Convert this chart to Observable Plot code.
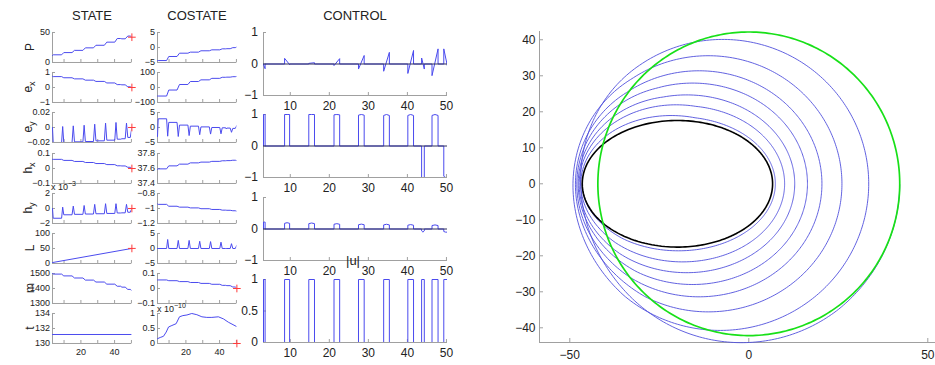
<!DOCTYPE html>
<html><head><meta charset="utf-8">
<script src="https://cdn.jsdelivr.net/npm/d3@7"></script>
<script src="https://cdn.jsdelivr.net/npm/@observablehq/plot@0.6"></script>
<style>
body{margin:0;background:#fff;}
#wrap{position:relative;width:935px;height:365px;overflow:hidden;font-family:"Liberation Sans",Arial,Helvetica,sans-serif;color:#222;}
.title{position:absolute;font-size:13px;line-height:13px;transform:translateX(-50%);white-space:nowrap;}
.ylab{position:absolute;font-size:12px;line-height:12px;transform:translate(-50%,-50%) rotate(-90deg);white-space:nowrap;}
.ylab sub{font-size:9px;vertical-align:-3px;}
.expo{position:absolute;font-size:9px;line-height:9px;white-space:nowrap;}
.expo sup{font-size:7px;vertical-align:4px;}
</style></head><body><div id="wrap"></div>
<script>
// ---------------- data ----------------
const Lmin = 3.14, Lmax = 50.27;
const burnStart = [3.14, 8.54, 14.74, 21.2, 27.47, 33.92, 40.11, 43.64, 46.3, 49.32];
const burnEnd   = [3.55, 9.83, 16.2, 22.65, 28.93, 35.38, 41.57, 44.33, 47.85, 50.27];

// state levels: before burn 0, then after each burn
const P_lv  = [11.63, 12.8, 16.5, 20.2, 24.4, 28.7, 33.9, 39.96, 39.46, 44.08, 42.16];
const ex_lv = [0.75, 0.726, 0.649, 0.575, 0.489, 0.405, 0.303, 0.193, 0.178, 0.0455, 0];
const ey_lv = [0, -0.020, -0.020, -0.0191, -0.0187, -0.0178, -0.0169, -0.0156, -0.0150, -0.0133, 0];
const ey_pk = [null, 0.0013, 0.0022, 0.003, 0.0044, 0.0058, 0.0067, null, 0.0058, null];
const hx_lv = [0.0612, 0.061, 0.054, 0.047, 0.040, 0.033, 0.026, 0.018, 0.017, 0.008, 0];
const hy_lv = [0, -1.3, -0.84, -0.78, -0.74, -0.70, -0.66, -0.60, -0.58, -0.50, 0]; // x 1e-3
const hy_pk = [null, 0.18, 0.32, 0.4, 0.55, 0.64, 0.64, null, 0.55, null];
const L_x = [3.14, 50.27], L_v = [3.14, 50.27];
const m_lv  = [1500, 1496, 1484, 1470, 1456, 1443, 1429, 1415, 1409, 1394, 1385];
const t_x = [3.14, 50.27], t_v = [131.2, 131.2];

// costate
const pP_lv  = [-4.4, -4.35, -3.0, -1.9, -1.55, -1.1, -0.78, -0.45, -0.4, -0.05, 0.2];
const pex_lv = [-57, -57, -17, 20, 40, 51, 61, 68, 69, 72, 74];
const pey_lv = [-3.0, 2.9, 1.7, 0.8, 0.45, 0.2, 0.0, -0.1, -0.2, -0.3, 0.7];
const pey_pk = [null, -2.9, -3.0, -2.7, -2.4, -2.2, -2.1, -0.5, -1.6, null];
const phx_lv = [37.59, 37.595, 37.635, 37.658, 37.675, 37.685, 37.695, 37.703, 37.705, 37.71, 37.705];
const phy_lv = [-0.94, -0.945, -0.97, -0.982, -0.992, -1.003, -1.013, -1.022, -1.024, -1.03, -1.037];
const pL_lv  = [0, 0, 0, 0, 0, 0, 0, 0, 0, 0, 1.1];
const pL_pk  = [null, 3.0, 2.7, 2.7, 2.4, 2.3, 2.1, null, 1.6, null];
const pm_lv  = [0.057, 0.057, 0.052, 0.046, 0.040, 0.034, 0.028, 0.021, 0.019, 0.010, 0];
const pt_x = [3.14, 4.74, 6.7, 8.3, 9.7, 11.7, 14.2, 16.2, 18.2, 20.6, 23.5, 26.5, 29.5, 32.4, 35.4, 39.3, 42.3, 45.2, 50.27];
const pt_v = [0.16, 0.2, 0.24, 0.38, 0.55, 0.6, 0.66, 0.89, 0.93, 0.95, 1.0, 0.96, 0.89, 0.87, 0.87, 0.89, 0.82, 0.71, 0.56]; // x 1e-10

// control values during each burn (edge, middle, edge)
const u1_s = [-0.02, 0.18, 0.02, -0.05, -0.16, -0.23, -0.30, 0.19, -0.37, 0.48];
const u1_e = [-0.15, -0.02, 0.04, 0.17, 0.27, 0.37, 0.43, -0.16, 0.48, -0.08];
const u2_s = [1, 1, 1, 0.99, 0.98, 0.97, 0.97, -1, 0.97, -0.96];
const u2_m = [1, 1, 1, 1, 1, 1, 1, -1, 1, -1];
const u2_e = [1, 1, 1, 0.99, 0.98, 0.97, 0.97, -1, 0.97, -1];
const u3_s = [0.22, 0.18, 0.17, 0.15, 0.135, 0.13, 0.12, -0.06, 0.11, -0.08];
const u3_m = [0.22, 0.2, 0.19, 0.17, 0.155, 0.15, 0.14, -0.1, 0.13, -0.1];
const u3_e = [0.22, 0.18, 0.17, 0.15, 0.135, 0.13, 0.12, -0.06, 0.11, -0.1];
const un_v = [1, 1, 1, 1, 1, 1, 1, 1, 1, 1];

// tick values
const stTicksX = [10, 20, 30, 40, 50], stLabelsX = [20, 40];
const ctTicksX = [10, 20, 30, 40, 50];
const orbTicksX = [-50, 0, 50], orbTicksY = [-40, -30, -20, -10, 0, 10, 20, 30, 40];

// ---------------- helpers ----------------
const FONT = '"Liberation Sans", Arial, Helvetica, sans-serif';
const BLUE = "#4a4aee", AXIS = "#a0a0a0", TXT = "#222", RED = "#ff3a3a";
const wrap = document.getElementById("wrap");
const fmt = d => String(+(+d).toFixed(6)).replace("-", "\u2212");

function stepSeries(levels, peaks) {
  const pts = [];
  for (let k = 0; k < burnStart.length; k++) {
    pts.push({x: burnStart[k], y: levels[k]});
    if (peaks && peaks[k] != null) pts.push({x: (burnStart[k] + burnEnd[k]) / 2, y: peaks[k]});
    pts.push({x: burnEnd[k], y: levels[k + 1]});
  }
  return pts;
}
function zipSeries(xs, ys) { return xs.map((x, i) => ({x, y: ys[i]})); }
function pulseSeries(vs, vm, ve) {
  const pts = [{x: Lmin, y: 0}];
  for (let k = 0; k < burnStart.length; k++) {
    const a = burnStart[k], b = burnEnd[k];
    pts.push({x: a, y: 0}, {x: a, y: vs[k]});
    if (vm) pts.push({x: (a + b) / 2, y: vm[k]});
    pts.push({x: b, y: ve[k]});
    if (b < Lmax) pts.push({x: b, y: 0});
  }
  if (burnEnd[burnEnd.length - 1] < Lmax) pts.push({x: Lmax, y: 0});
  return pts;
}
function at(pts, L) {
  for (let i = 1; i < pts.length; i++) if (L <= pts[i].x) {
    const a = pts[i - 1], b = pts[i];
    const t = b.x === a.x ? 1 : (L - a.x) / (b.x - a.x);
    return a.y + t * (b.y - a.y);
  }
  return pts[pts.length - 1].y;
}
function place(svg, left, top) {
  svg.style.position = "absolute";
  svg.style.left = left + "px";
  svg.style.top = top + "px";
  svg.style.maxWidth = "none";
  wrap.appendChild(svg);
}
function panel(o) {
  const ml = o.ml ?? 45, mr = o.mr ?? 6, mt = o.mt ?? 6, mb = o.mb ?? 18;
  const W = o.right - o.left, H = o.bottom - o.top;
  const marks = [
    Plot.ruleX([o.xd[0]], {stroke: AXIS}),
    Plot.ruleY([o.yd[0]], {stroke: AXIS}),
    Plot.axisY(o.yt, {anchor: "left", label: null, tickSize: 0, tickPadding: o.yPad, tickFormat: fmt, fontSize: o.fs, fill: TXT}),
    Plot.axisY(o.yt, {anchor: "left", label: null, tickSize: 3, dx: 3, tickFormat: () => "", stroke: AXIS}),
    Plot.axisX(o.xt, {anchor: "bottom", label: null, tickSize: 3, dy: -3, tickFormat: () => "", stroke: AXIS})
  ];
  if (o.xl) marks.push(Plot.axisX(o.xl, {anchor: "bottom", label: null, tickSize: 0, tickPadding: o.xPad, tickFormat: fmt, fontSize: o.fs, fill: TXT}));
  marks.push(...o.marks);
  const svg = Plot.plot({
    width: ml + W + mr, height: mt + H + mb,
    marginLeft: ml, marginRight: mr, marginTop: mt, marginBottom: mb,
    x: {domain: o.xd, axis: null}, y: {domain: o.yd, axis: null},
    style: {background: "transparent", overflow: "visible", fontFamily: FONT},
    marks
  });
  place(svg, o.left - ml, o.top - mt);
}
function lineMark(pts) { return Plot.line(pts, {x: "x", y: "y", stroke: BLUE, strokeWidth: 1, clip: true}); }
function plusMark(y) { return Plot.dot([{x: Lmax, y}], {x: "x", y: "y", symbol: "plus", r: 2.6, stroke: RED, strokeWidth: 1}); }

// ---------------- STATE / COSTATE columns ----------------
const rowTop = [32, 72.2, 112.4, 152.7, 192.9, 233.1, 273.1, 313.3];
const rowH = 30;
const stateDefs = [
  {lab: "P", yd: [0, 50], yt: [0, 50], pts: stepSeries(P_lv), target: P_lv[10]},
  {lab: "e<sub>x</sub>", yd: [-1, 1], yt: [-1, 0, 1], pts: stepSeries(ex_lv), target: 0},
  {lab: "e<sub>y</sub>", yd: [-0.02, 0.02], yt: [-0.02, 0, 0.02], pts: stepSeries(ey_lv, ey_pk), target: 0},
  {lab: "h<sub>x</sub>", yd: [-0.1, 0.1], yt: [-0.1, 0, 0.1], pts: stepSeries(hx_lv), target: 0},
  {lab: "h<sub>y</sub>", yd: [-2, 2], yt: [-2, 0, 2], pts: stepSeries(hy_lv, hy_pk), target: 0},
  {lab: "L", yd: [0, 100], yt: [0, 50, 100], pts: zipSeries(L_x, L_v), target: L_v[1]},
  {lab: "m", yd: [1300, 1500], yt: [1300, 1400, 1500], pts: stepSeries(m_lv)},
  {lab: "t", yd: [130, 134], yt: [130, 132, 134], pts: zipSeries(t_x, t_v)}
];
const costDefs = [
  {yd: [-5, 5], yt: [-5, 0, 5], pts: stepSeries(pP_lv)},
  {yd: [-100, 100], yt: [-100, 0, 100], pts: stepSeries(pex_lv)},
  {yd: [-5, 5], yt: [-5, 0, 5], pts: stepSeries(pey_lv, pey_pk)},
  {yd: [37.4, 37.8], yt: [37.4, 37.6, 37.8], pts: stepSeries(phx_lv)},
  {yd: [-1.2, -0.8], yt: [-1.2, -1, -0.8], pts: stepSeries(phy_lv)},
  {yd: [-5, 5], yt: [-5, 0, 5], pts: stepSeries(pL_lv, pL_pk)},
  {yd: [-0.1, 0.1], yt: [-0.1, 0, 0.1], pts: stepSeries(pm_lv), target: 0},
  {yd: [0, 1], yt: [0, 0.5, 1], pts: zipSeries(pt_x, pt_v), target: 0}
];
function column(defs, left, right) {
  defs.forEach((d, i) => {
    const last = i === defs.length - 1;
    const marks = [lineMark(d.pts)];
    if (d.target != null) marks.push(plusMark(d.target));
    panel({left, right, top: rowTop[i], bottom: rowTop[i] + rowH,
      xd: [Lmin, Lmax], yd: d.yd, yt: d.yt, xt: stTicksX, xl: last ? stLabelsX : null,
      fs: 9, yPad: 2.5, xPad: 5, marks});
  });
}
column(stateDefs, 52.3, 131.7);
column(costDefs, 157.3, 236.7);

stateDefs.forEach((d, i) => {
  const div = document.createElement("div");
  div.className = "ylab";
  div.innerHTML = d.lab;
  div.style.left = "30px";
  div.style.top = (rowTop[i] + rowH / 2) + "px";
  wrap.appendChild(div);
});

// ---------------- CONTROL column ----------------
const ctTop = [31.7, 114.2, 196.7, 279.2], ctH = 63;
const ctrlDefs = [
  {yd: [-1, 1], yt: [-1, 0, 1], pts: pulseSeries(u1_s, null, u1_e), zero: true},
  {yd: [-1, 1], yt: [-1, 0, 1], pts: pulseSeries(u2_s, u2_m, u2_e), zero: true},
  {yd: [-1, 1], yt: [-1, 0, 1], pts: pulseSeries(u3_s, u3_m, u3_e), zero: true},
  {yd: [0, 1], yt: [0, 0.5, 1], pts: pulseSeries(un_v, null, un_v), zero: false}
];
ctrlDefs.forEach((d, i) => {
  const marks = [lineMark(d.pts)];
  if (d.zero) marks.push(Plot.ruleY([0], {stroke: "#2e2e5a", strokeWidth: 1}));
  panel({left: 262.7, right: 446.7, top: ctTop[i], bottom: ctTop[i] + ctH,
    xd: [Lmin, Lmax], yd: d.yd, yt: d.yt, xt: ctTicksX, xl: ctTicksX,
    fs: 12, yPad: 5.5, xPad: 6, ml: 50, mr: 12, mb: 22, marks});
});

// ---------------- ORBIT (trajectory from the state) ----------------
const Pk = stepSeries(P_lv), exk = stepSeries(ex_lv);
const traj = [];
for (let L = Lmin; L <= Lmax + 1e-9; L += 0.02) {
  const p = at(Pk, L), e = at(exk, L);
  const r = p / (1 + e * Math.cos(L));
  traj.push({x: r * Math.cos(L), y: r * Math.sin(L)});
}
function conic(p, e) {
  const pts = [];
  for (let a = 0; a <= 2 * Math.PI + 0.02; a += 0.02) {
    const r = p / (1 + e * Math.cos(a));
    pts.push({x: r * Math.cos(a), y: r * Math.sin(a)});
  }
  return pts;
}
const initOrbit = conic(P_lv[0], ex_lv[0]);
const finalOrbit = conic(P_lv[10], ex_lv[10]);
{
  const oLeft = 539, oRight = 935, oTop = 30.7, oBottom = 341.7;
  const oml = 60, omt = 2, omb = 24;
  const svg = Plot.plot({
    width: oml + (oRight - oLeft), height: omt + (oBottom - oTop) + omb,
    marginLeft: oml, marginRight: 0, marginTop: omt, marginBottom: omb,
    x: {domain: [-58.46, 52.15], axis: null}, y: {domain: [-44.08, 42.3], axis: null},
    style: {background: "transparent", overflow: "visible", fontFamily: FONT},
    marks: [
      Plot.ruleX([-58.46], {stroke: AXIS}),
      Plot.ruleY([-44.08], {stroke: AXIS}),
      Plot.axisY(orbTicksY, {anchor: "left", label: null, tickSize: 0, tickPadding: 4, tickFormat: fmt, fontSize: 12, fill: TXT}),
      Plot.axisY(orbTicksY, {anchor: "left", label: null, tickSize: 4, dx: 4, tickFormat: () => "", stroke: AXIS}),
      Plot.axisX(orbTicksX, {anchor: "bottom", label: null, tickSize: 0, tickPadding: 8, tickFormat: fmt, fontSize: 12, fill: TXT}),
      Plot.axisX(orbTicksX, {anchor: "bottom", label: null, tickSize: 4, dy: -4, tickFormat: () => "", stroke: AXIS}),
      Plot.line(traj, {x: "x", y: "y", stroke: "#5050dd", strokeWidth: 0.9}),
      Plot.line(initOrbit, {x: "x", y: "y", stroke: "#000", strokeWidth: 1.6}),
      Plot.line(finalOrbit, {x: "x", y: "y", stroke: "#18e018", strokeWidth: 1.7})
    ]
  });
  place(svg, oLeft - oml, oTop - omt);
}

// ---------------- titles and exponent labels ----------------
function addDiv(cls, html, left, top) {
  const d = document.createElement("div");
  d.className = cls; d.innerHTML = html;
  d.style.left = left + "px"; d.style.top = top + "px";
  wrap.appendChild(d);
}
addDiv("title", "STATE", 92, 9);
addDiv("title", "COSTATE", 197, 9);
addDiv("title", "CONTROL", 355, 9);
addDiv("title", "|u|", 353, 254);
addDiv("expo", "x 10<sup>\u22123</sup>", 51, 179);
addDiv("expo", "x 10<sup>\u221210</sup>", 157, 301);
</script></body></html>
